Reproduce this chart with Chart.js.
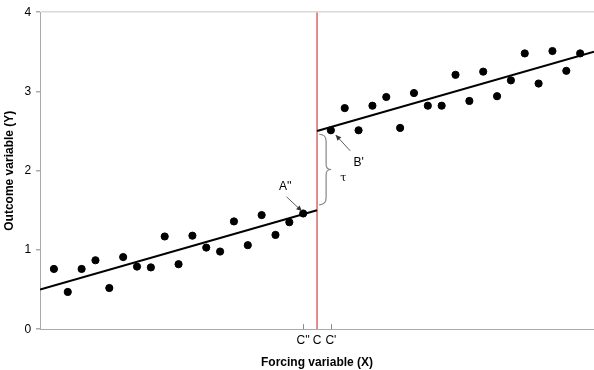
<!DOCTYPE html>
<html>
<head>
<meta charset="utf-8">
<script src="https://cdn.jsdelivr.net/npm/chart.js@4/dist/chart.umd.min.js"></script>
<style>
html,body{margin:0;padding:0;background:#fff;}
#wrap{width:594px;height:370px;}
</style>
</head>
<body>
<div id="wrap"><canvas id="c" width="594" height="370"></canvas></div>
<script>
// ---- data ----
const leftX  = [1,2,3,4,5,6,7,8,9,10,11,12,13,14,15,16,17,18,19];
const leftY  = [0.76,0.47,0.76,0.87,0.52,0.91,0.79,0.78,1.17,0.82,1.18,1.03,0.98,1.36,1.06,1.44,1.19,1.35,1.46];
const rightX = [21,22,23,24,25,26,27,28,29,30,31,32,33,34,35,36,37,38,39];
const rightY = [2.51,2.79,2.51,2.82,2.93,2.54,2.98,2.82,2.82,3.21,2.88,3.25,2.94,3.14,3.48,3.10,3.51,3.26,3.48];
const fitLeftX  = [0,20];
const fitLeftY  = [0.5,1.5];
const fitRightX = [20,40];
const fitRightY = [2.5,3.5];
const cutoffX = 20;
const cutoffY = [0,4];
const xTickValues = [19,20,21];
const xTickLabels = ["C''","C","C'"];
const yTickValues = [0,1,2,3,4];
const xTitle = "Forcing variable (X)";
const yTitle = "Outcome variable (Y)";
// annotation anchors in data units
const labelA = {text:"A''", x:17.7, y:1.80};
const arrowA = {x1:17.8, y1:1.67, x2:18.9, y2:1.49};
const labelB = {text:"B'", x:23.0, y:2.10};
const arrowB = {x1:22.4, y1:2.25, x2:21.35, y2:2.45};
const braceTau = {x:20.15, y1:2.46, y2:1.57, text:"\u03c4", tx:21.9, ty:1.91};

const pts = (xs, ys) => xs.map((x,i)=>({x:x, y:ys[i]}));

const annot = {
  id:'annot',
  afterDatasetsDraw(chart){
    const ctx = chart.ctx, xs = chart.scales.x, ys = chart.scales.y;
    const X = v => xs.getPixelForValue(v), Y = v => ys.getPixelForValue(v);
    ctx.save();
    // inward x ticks
    ctx.strokeStyle = '#888'; ctx.lineWidth = 1;
    [xTickValues[0], xTickValues[2]].forEach(v=>{
      const px = Math.round(X(v))+0.5;
      ctx.beginPath(); ctx.moveTo(px, ys.bottom); ctx.lineTo(px, ys.bottom-5); ctx.stroke();
    });
    // arrows
    function arrow(a){
      const x1=X(a.x1), y1=Y(a.y1), x2=X(a.x2), y2=Y(a.y2);
      ctx.strokeStyle='#333'; ctx.fillStyle='#333'; ctx.lineWidth=0.8;
      ctx.beginPath(); ctx.moveTo(x1,y1); ctx.lineTo(x2,y2); ctx.stroke();
      const ang=Math.atan2(y2-y1,x2-x1), L=6, W=0.45;
      ctx.beginPath(); ctx.moveTo(x2,y2);
      ctx.lineTo(x2-L*Math.cos(ang-W), y2-L*Math.sin(ang-W));
      ctx.lineTo(x2-L*Math.cos(ang+W), y2-L*Math.sin(ang+W));
      ctx.closePath(); ctx.fill();
    }
    arrow(arrowA); arrow(arrowB);
    ctx.font = '12px "Liberation Sans", Arial, sans-serif';
    ctx.fillStyle = '#000'; ctx.textAlign='center'; ctx.textBaseline='middle';
    ctx.fillText(labelA.text, X(labelA.x), Y(labelA.y));
    ctx.fillText(labelB.text, X(labelB.x), Y(labelB.y));
    // brace
    const bx = X(braceTau.x), t = Y(braceTau.y1), b = Y(braceTau.y2), m = (t+b)/2;
    ctx.strokeStyle='#888'; ctx.lineWidth=1.2;
    ctx.beginPath();
    ctx.moveTo(bx, t);
    ctx.quadraticCurveTo(bx+7, t, bx+7, t+7);
    ctx.lineTo(bx+7, m-5);
    ctx.quadraticCurveTo(bx+7, m, bx+12, m);
    ctx.quadraticCurveTo(bx+7, m, bx+7, m+5);
    ctx.lineTo(bx+7, b-7);
    ctx.quadraticCurveTo(bx+7, b, bx, b);
    ctx.stroke();
    ctx.fillStyle='#000';
    ctx.font = '11px "DejaVu Serif", serif';
    ctx.fillText(braceTau.text, X(braceTau.tx), Y(braceTau.ty));
    ctx.restore();
  }
};

new Chart(document.getElementById('c'), {
  type:'scatter',
  data:{
    datasets:[
      {label:'cutoff', data:pts([cutoffX,cutoffX], cutoffY), showLine:true, borderColor:'#d05050', borderWidth:1.3, pointRadius:0, order:3},
      {label:'fitL', data:pts(fitLeftX, fitLeftY), showLine:true, borderColor:'#000', borderWidth:2, pointRadius:0, order:2},
      {label:'fitR', data:pts(fitRightX, fitRightY), showLine:true, borderColor:'#000', borderWidth:2, pointRadius:0, order:2},
      {label:'left', data:pts(leftX, leftY), backgroundColor:'#000', borderColor:'#000', pointRadius:3.6, order:1},
      {label:'right', data:pts(rightX, rightY), backgroundColor:'#000', borderColor:'#000', pointRadius:3.6, order:1}
    ]
  },
  options:{
    responsive:false, animation:false, devicePixelRatio:1,
    layout:{autoPadding:false, padding:{top:5, right:0, left:0, bottom:0}},
    plugins:{legend:{display:false}, tooltip:{enabled:false}},
    scales:{
      x:{
        type:'linear', min:0, max:40,
        afterBuildTicks(s){ s.ticks = xTickValues.map(v=>({value:v})); },
        afterFit(s){ s.paddingRight = 0; s.paddingLeft = 0; },
        ticks:{autoSkip:false, maxRotation:0, color:'#000', padding:4,
          font:{family:'"Liberation Sans", Arial, sans-serif', size:12},
          callback:(v)=>{const i=xTickValues.indexOf(v); return i>=0?xTickLabels[i]:'';}},
        grid:{display:true, drawOnChartArea:false, drawTicks:false, color:'transparent'},
        border:{display:true, color:'#aaa', width:1},
        title:{display:true, text:xTitle, color:'#000', padding:{top:4,bottom:0},
          font:{family:'"Liberation Sans", Arial, sans-serif', size:12, weight:'bold'}}
      },
      y:{
        type:'linear', min:0, max:4,
        afterBuildTicks(s){ s.ticks = yTickValues.map(v=>({value:v})); },
        ticks:{color:'#000', padding:5,
          font:{family:'"Liberation Sans", Arial, sans-serif', size:12}},
        grid:{drawTicks:true, tickLength:4, tickColor:'#aaa',
          color:(c)=> (c.tick && c.tick.value===4) ? '#d9d9d9' : 'rgba(0,0,0,0)', lineWidth:1.5},
        border:{display:true, color:'#aaa', width:1},
        title:{display:true, text:yTitle, color:'#000', padding:{top:2,bottom:3},
          font:{family:'"Liberation Sans", Arial, sans-serif', size:12, weight:'bold'}}
      }
    }
  },
  plugins:[annot]
});
</script>
</body>
</html>
